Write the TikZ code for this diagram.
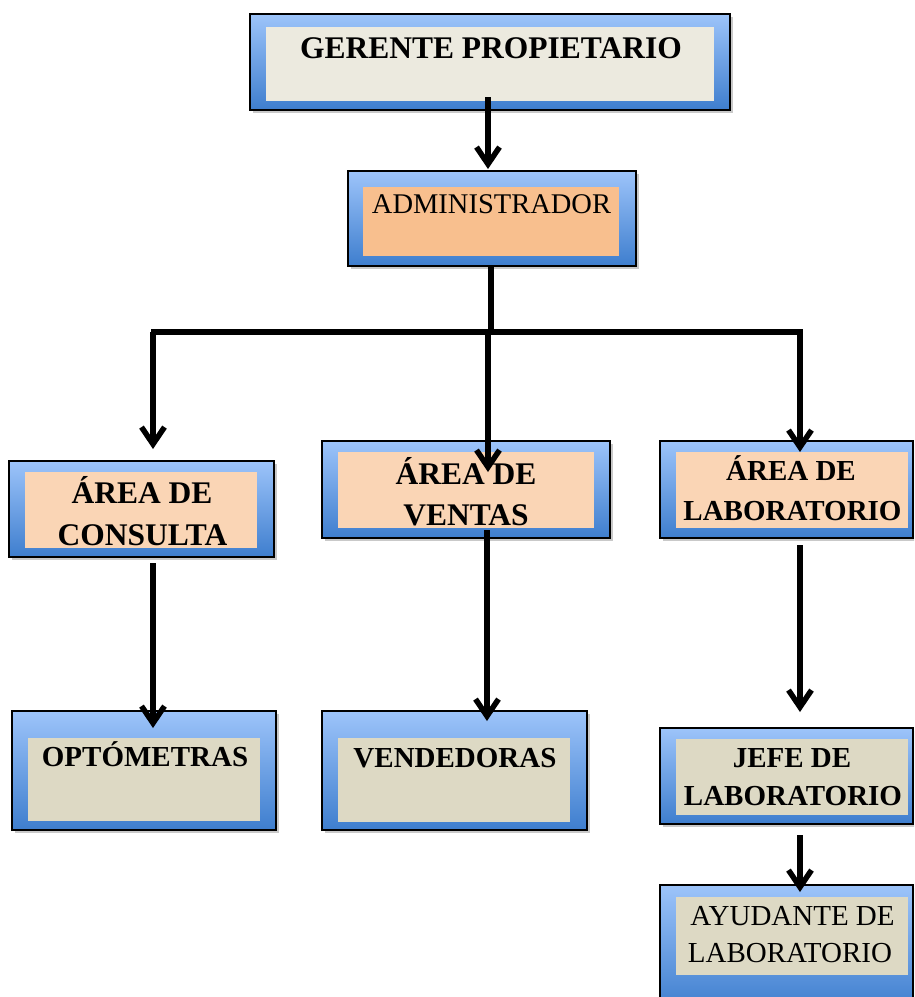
\documentclass[tikz,border=0pt]{standalone}
\usepackage{fontspec}
\setmainfont{Liberation Serif}
\usetikzlibrary{arrows.meta,shadows}

\definecolor{frameTop}{RGB}{157,196,250}
\definecolor{frameBot}{RGB}{62,126,206}
\definecolor{paleBeige}{RGB}{236,234,223}
\definecolor{peachFill}{RGB}{248,191,142}
\definecolor{lightPeach}{RGB}{250,213,181}
\definecolor{khakiFill}{RGB}{221,217,196}

\tikzset{
  frame/.style={draw=black, line width=1.8pt, top color=frameTop, bottom color=frameBot,
    inner sep=0pt,
    drop shadow={shadow xshift=2.5pt, shadow yshift=-3pt, fill=black!35, opacity=0.6}},
  panel/.style={fill=#1, draw=none, inner sep=0pt},
  boldA/.style={font=\bfseries\fontsize{31.5}{37}\selectfont, anchor=base, inner sep=0pt},
  boldB/.style={font=\bfseries\fontsize{29}{35}\selectfont, anchor=base, inner sep=0pt},
  plainA/.style={font=\fontsize{28.5}{34}\selectfont, anchor=base, inner sep=0pt},
  plainB/.style={font=\fontsize{29}{35}\selectfont, anchor=base, inner sep=0pt},
  link/.style={draw=black, line width=5.5pt},
  flow/.style={link, -{Straight Barb[length=17pt,width=23pt,line width=5.5pt,sharp]}}
}

\begin{document}
\begin{tikzpicture}[x=1pt, y=-1pt]
\clip (0,0) rectangle (914,997);
\fill[white] (0,0) rectangle (914,997);

% ---- frames (blue gradient) ----
\node[frame, minimum width=480pt, minimum height=96pt] (ger) at (490,62) {};
\node[frame, minimum width=288pt, minimum height=95pt] (adm) at (492,218.5) {};
\node[frame, minimum width=265pt, minimum height=96pt] (con) at (141.5,509) {};
\node[frame, minimum width=288pt, minimum height=97pt] (ven) at (466,489.5) {};
\node[frame, minimum width=253pt, minimum height=97pt] (lab) at (786.5,489.5) {};
\node[frame, minimum width=264pt, minimum height=119pt] (opt) at (144,770.5) {};
\node[frame, minimum width=265pt, minimum height=119pt] (vnd) at (454.5,770.5) {};
\node[frame, minimum width=253pt, minimum height=96pt] (jef) at (786.5,776) {};
\node[frame, minimum width=253pt, minimum height=125pt] (ayu) at (786.5,947.5) {};

% ---- inner panels ----
\node[panel=paleBeige,  minimum width=448pt, minimum height=74pt] (ger-in) at (490,64) {};
\node[panel=peachFill,  minimum width=256pt, minimum height=69pt] (adm-in) at (491,221.5) {};
\node[panel=lightPeach, minimum width=232pt, minimum height=76pt] (con-in) at (141,510) {};
\node[panel=lightPeach, minimum width=256pt, minimum height=76pt] (ven-in) at (466,490) {};
\node[panel=lightPeach, minimum width=232pt, minimum height=76pt] (lab-in) at (792,490) {};
\node[panel=khakiFill,  minimum width=232pt, minimum height=83pt] (opt-in) at (144,779.5) {};
\node[panel=khakiFill,  minimum width=232pt, minimum height=84pt] (vnd-in) at (454,780) {};
\node[panel=khakiFill,  minimum width=232pt, minimum height=76pt] (jef-in) at (792,777) {};
\node[panel=khakiFill,  minimum width=232pt, minimum height=78pt] (ayu-in) at (792,936) {};

% ---- labels ----
\node[boldA] (ger-t) at (491,58) {GERENTE PROPIETARIO};
\node[plainA] (adm-t) at (491.5,213) {ADMINISTRADOR};
\node[boldA] (con-t1) at (142,503) {ÁREA DE};
\node[boldA] (con-t2) at (142.5,545) {CONSULTA};
\node[boldA] (ven-t1) at (466,484) {ÁREA DE};
\node[boldA] (ven-t2) at (466,525) {VENTAS};
\node[boldB] (lab-t1) at (791,480) {ÁREA DE};
\node[boldB] (lab-t2) at (792.5,520) {LABORATORIO};
\node[boldB] (opt-t) at (145,766) {OPTÓMETRAS};
\node[boldB] (vnd-t) at (455,767) {VENDEDORAS};
\node[boldB] (jef-t1) at (792,767) {JEFE DE};
\node[boldB] (jef-t2) at (793,805) {LABORATORIO};
\node[plainB] (ayu-t1) at (792.5,925) {AYUDANTE DE};
\node[plainB] (ayu-t2) at (790,962) {LABORATORIO};

% ---- connector end points ----
\coordinate (ger-out) at (488,97);
\coordinate (adm-in-pt) at (488,169);
\coordinate (adm-out) at (491,266);
\coordinate (bus-mid) at (491,329);
\coordinate (bus-l) at (151,332);
\coordinate (bus-r) at (803,332);
\coordinate (drop-l) at (153,332);
\coordinate (drop-m) at (488,332);
\coordinate (drop-r) at (800,332);
\coordinate (con-pt) at (153,449);
\coordinate (ven-pt) at (488,472);
\coordinate (lab-pt) at (800,452);
\coordinate (con-out) at (153,563);
\coordinate (opt-pt) at (153,728);
\coordinate (ven-out) at (487,530);
\coordinate (vnd-pt) at (487,721);
\coordinate (lab-out) at (800,545);
\coordinate (jef-pt) at (800,712);
\coordinate (jef-out) at (800,835);
\coordinate (ayu-pt) at (800,892);

% ---- connectors ----
\draw[flow] (ger-out) -- (adm-in-pt);
\draw[link] (adm-out) -- (bus-mid);
\draw[link] (bus-l) -- (bus-r);
\draw[flow] (drop-l) -- (con-pt);
\draw[flow] (drop-m) -- (ven-pt);
\draw[flow] (drop-r) -- (lab-pt);
\draw[flow] (con-out) -- (opt-pt);
\draw[flow] (ven-out) -- (vnd-pt);
\draw[flow] (lab-out) -- (jef-pt);
\draw[flow] (jef-out) -- (ayu-pt);
\end{tikzpicture}
\end{document}
